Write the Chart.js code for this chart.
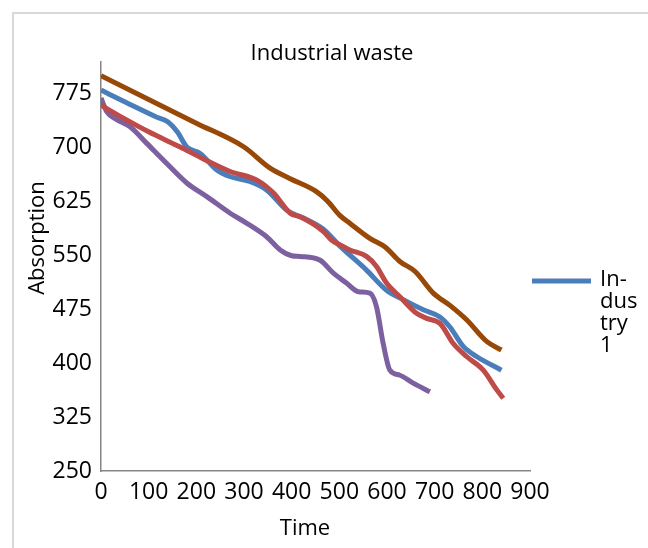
<!DOCTYPE html>
<html>
<head>
<meta charset="utf-8">
<script src="https://cdn.jsdelivr.net/npm/chart.js@4.4.1/dist/chart.umd.min.js"></script>
<style>
  html, body { margin: 0; padding: 0; background: #ffffff; }
  canvas { display: block; }
</style>
</head>
<body>
<canvas id="chart" width="648" height="548"></canvas>
<script>
// Labels
const chartTitle = 'Industrial waste';
const xAxisTitle = 'Time';
const yAxisTitle = 'Absorption';
const seriesNames = ['Industry 1', 'Industry 2', 'Industry 3', 'Industry 4'];
const legendLines = ['In-', 'dus', 'try', '1'];

// Axis ranges and tick values
const xMin = 0, xMax = 900;
const yMin = 250, yMax = 818;
const xTickValues = [0, 100, 200, 300, 400, 500, 600, 700, 800, 900];
const yTickValues = [250, 325, 400, 475, 550, 625, 700, 775];

// Industry 1 (blue)
const industry1Time = [0, 55, 115, 140, 160, 180, 208, 243, 270, 312, 348, 390, 432, 466, 502, 557, 599, 634, 676, 711, 732, 760, 788, 840];
const industry1Absorption = [779, 761, 742, 735, 721, 700, 691, 668, 659, 652, 640, 612, 599, 586, 562, 529, 501, 488, 474, 464, 450, 423, 409, 390];

// Industry 2 (red)
const industry2Time = [0, 47, 100, 166, 210, 271, 327, 362, 397, 418, 466, 485, 505, 522, 557, 578, 599, 627, 662, 683, 711, 739, 767, 802, 830, 844];
const industry2Absorption = [758, 740, 721, 700, 685, 666, 654, 636, 608, 603, 583, 570, 563, 557, 548, 534, 511, 492, 469, 462, 455, 427, 409, 390, 363, 351];

// Industry 3 (purple)
const industry3Time = [0, 12, 33, 61, 96, 138, 180, 222, 271, 306, 348, 376, 400, 418, 459, 487, 515, 540, 564, 578, 592, 606, 627, 655, 690];
const industry3Absorption = [768, 749, 738, 728, 705, 677, 650, 631, 608, 594, 575, 557, 549, 548, 543, 525, 511, 499, 497, 478, 427, 390, 383, 372, 360];

// Industry 4 (brown)
const industry4Time = [0, 100, 200, 300, 354, 397, 452, 475, 501, 522, 564, 596, 627, 659, 697, 732, 767, 809, 840];
const industry4Absorption = [799, 766, 733, 700, 671, 656, 638, 625, 605, 594, 573, 561, 541, 527, 497, 480, 460, 430, 418];

const seriesColors = ['#4A7EBB', '#BE4B48', '#7D60A0', '#984807'];

const toPoints = (xs, ys) => xs.map((x, i) => ({ x: x, y: ys[i] }));

const seriesPoints = [
  toPoints(industry1Time, industry1Absorption),
  toPoints(industry2Time, industry2Absorption),
  toPoints(industry3Time, industry3Absorption),
  toPoints(industry4Time, industry4Absorption)
];

const FONT = "'Open Sans', 'Noto Sans', sans-serif";
const FONT_SIZE = 22;
const TICK_FONT_SIZE = 23;

// Frame, titles and the single-entry legend
const decorPlugin = {
  id: 'decor',
  beforeDraw(chart) {
    const ctx = chart.ctx;
    ctx.save();
    ctx.fillStyle = '#ffffff';
    ctx.fillRect(0, 0, chart.width, chart.height);
    ctx.strokeStyle = '#d9d9d9';
    ctx.lineWidth = 2;
    ctx.beginPath();
    ctx.moveTo(13, chart.height);
    ctx.lineTo(13, 13);
    ctx.lineTo(chart.width, 13);
    ctx.stroke();
    ctx.restore();
  },
  afterDraw(chart) {
    const ctx = chart.ctx;
    ctx.save();
    ctx.fillStyle = '#000000';
    ctx.font = FONT_SIZE + 'px ' + FONT;
    ctx.textAlign = 'center';
    ctx.textBaseline = 'middle';
    ctx.fillText(chartTitle, 332, 54);
    ctx.fillText(xAxisTitle, 305, 529);
    ctx.save();
    ctx.translate(38, 238);
    ctx.rotate(-Math.PI / 2);
    ctx.fillText(yAxisTitle, 0, 0);
    ctx.restore();

    // legend entry for the first series
    ctx.strokeStyle = chart.data.datasets[0].borderColor;
    ctx.lineWidth = 5;
    ctx.lineCap = 'butt';
    ctx.beginPath();
    ctx.moveTo(532, 281);
    ctx.lineTo(591, 281);
    ctx.stroke();
    ctx.textAlign = 'left';
    legendLines.forEach((line, i) => {
      ctx.fillText(line, 600, 280 + i * 22);
    });
    ctx.restore();
  }
};

const order = [3, 0, 1, 2];
const useTicks = values => scale => { scale.ticks = values.map(v => ({ value: v })); };

new Chart(document.getElementById('chart'), {
  type: 'scatter',
  data: {
    datasets: seriesNames.map((name, i) => ({
      label: name,
      data: seriesPoints[i],
      showLine: true,
      borderColor: seriesColors[i],
      backgroundColor: seriesColors[i],
      borderWidth: 5,
      pointRadius: 0,
      pointHoverRadius: 0,
      cubicInterpolationMode: 'monotone',
      borderCapStyle: 'butt',
      borderJoinStyle: 'round',
      order: order[i]
    }))
  },
  options: {
    responsive: false,
    devicePixelRatio: 1,
    animation: false,
    events: [],
    layout: { padding: { left: 0, top: 62, right: 118, bottom: 0 } },
    plugins: {
      legend: { display: false },
      title: { display: false },
      tooltip: { enabled: false }
    },
    scales: {
      x: {
        type: 'linear',
        min: xMin,
        max: xMax,
        grid: { display: false, drawTicks: false },
        border: { display: true, color: '#868686', width: 1.5 },
        afterBuildTicks: useTicks(xTickValues),
        ticks: {
          maxRotation: 0,
          autoSkip: false,
          padding: 8,
          color: '#000000',
          font: { family: FONT, size: TICK_FONT_SIZE }
        },
        afterFit(scale) { scale.height = 77; }
      },
      y: {
        type: 'linear',
        min: yMin,
        max: yMax,
        grid: { display: false, drawTicks: false },
        border: { display: true, color: '#868686', width: 1.5 },
        afterBuildTicks: useTicks(yTickValues),
        ticks: {
          autoSkip: false,
          padding: 9,
          color: '#000000',
          font: { family: FONT, size: TICK_FONT_SIZE }
        },
        afterFit(scale) { scale.width = 101; }
      }
    }
  },
  plugins: [decorPlugin]
});
</script>
</body>
</html>
